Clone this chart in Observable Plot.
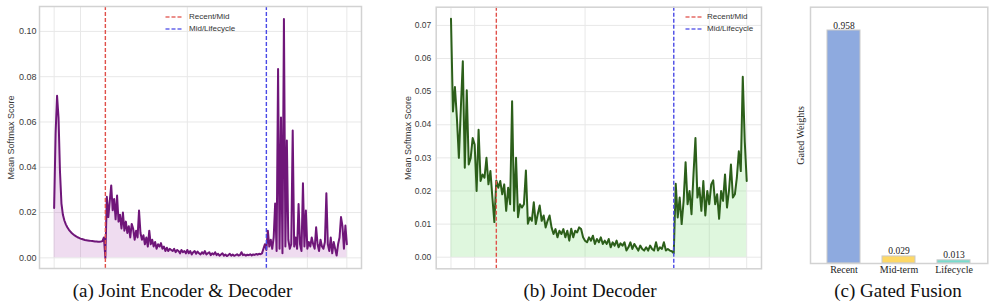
<!DOCTYPE html>
<html><head><meta charset="utf-8">
<script src="https://cdn.jsdelivr.net/npm/d3@7"></script>
<script src="https://cdn.jsdelivr.net/npm/@observablehq/plot@0.6"></script>
<style>
body{margin:0;background:#fff;}
#root{position:relative;width:996px;height:305px;overflow:hidden;font-family:"Liberation Sans",Arial,sans-serif;}
.panel{position:absolute;top:0;}
.caption{position:absolute;top:280px;font-family:"Liberation Serif","Times New Roman",serif;font-size:19px;color:#111;white-space:nowrap;transform:translateX(-50%);line-height:22px;}
.legend{position:absolute;font-size:8px;color:#333;line-height:12px;font-family:"Liberation Sans",Arial,sans-serif;}
.legend .row{display:flex;align-items:center;height:12px;}
.legend svg{display:block;}
g[aria-label="y-axis label"] text{font-size:9px;}
#pc g[aria-label="y-axis label"] text{font-size:10px;}
</style></head>
<body><div id="root"></div>
<script>
// ---------- data ----------
const encDecScores = [
0.022,0.055,0.0716,0.062,0.038,0.024,0.019,0.0165,0.0148,0.0135,0.0125,0.0117,0.011,0.0104,0.0099,0.0095,0.0091,0.0088,0.0085,0.0083,0.0081,0.0079,0.0078,0.0077,0.0076,0.0075,0.0074,0.0073,0.0072,0.0072,0.0071,0.0071,0.0072,0.0074,0.009,0.0,
0.027,0.018,0.025,0.032,0.021,0.026,0.017,0.0275,0.016,0.019,0.013,0.020,0.012,0.016,0.011,0.014,0.009,0.015,0.0128,0.008,0.012,0.009,0.0209,0.011,0.008,0.010,0.006,0.009,0.005,0.012,
0.006,0.008,0.005,0.007,0.004,0.006,0.005,0.0065,0.004,0.005,0.003,0.0045,0.003,0.004,0.0035,0.003,0.004,0.0025,0.0035,0.003,0.002,0.0035,0.0025,0.003,0.002,0.0035,0.002,0.003,0.0015,0.0025,
0.003,0.0018,0.0028,0.002,0.0015,0.0025,0.0018,0.003,0.0015,0.002,0.0025,0.0012,0.002,0.0015,0.0025,0.0012,0.0018,0.001,0.0015,0.002,0.001,0.0015,0.0008,0.0012,0.0018,0.001,0.0015,0.0009,0.0012,0.0016,
0.001,0.0013,0.0025,0.0012,0.0015,0.001,0.0014,0.0012,0.0016,0.0011,0.0015,0.0013,0.0017,0.0014,0.0018,0.0016,0.002,0.004,0.006,0.0035,
0.012,0.005,0.008,0.004,0.009,0.024,0.003,0.0834,0.004,0.062,0.002,0.1055,0.005,0.0518,0.008,0.004,0.006,0.0562,0.005,0.009,0.004,0.0238,0.006,0.003,0.0329,0.005,0.0209,0.004,0.007,0.005,
0.009,0.006,0.004,0.0135,0.006,0.003,0.008,0.005,0.004,0.007,0.0285,0.006,0.003,0.009,0.002,0.007,0.004,0.001,0.006,0.009,0.018,0.014,0.004,0.0143,0.006
];
const decScores = [
0.072,0.044,0.0514,0.042,0.030,0.045,0.0592,0.027,0.0504,0.028,0.030,0.036,0.034,0.020,0.0385,0.023,0.025,0.024,0.030,0.022,0.026,0.018,0.0106,0.0232,
0.021,0.023,0.019,0.022,0.014,0.021,0.016,0.0471,0.014,0.030,0.0121,0.016,0.015,0.016,0.0262,0.0101,0.012,0.011,0.0166,0.010,0.013,0.0156,0.011,0.0126,0.009,0.011,
0.0126,0.009,0.007,0.0085,0.006,0.008,0.007,0.0085,0.006,0.008,0.005,0.0086,0.006,0.008,0.0075,0.009,0.0085,0.006,0.005,0.0045,0.006,0.005,0.0065,0.004,0.0055,0.0045,0.006,0.004,0.005,0.004,
0.0055,0.003,0.0045,0.0035,0.005,0.003,0.0042,0.0035,0.0045,0.002,0.003,0.0045,0.0025,0.004,0.003,0.002,0.0035,0.0025,0.002,0.003,0.002,0.0035,0.0025,0.002,0.0045,0.002,0.003,0.0025,0.0045,0.002,
0.0025,0.002,0.0018,0.0012,
0.0222,0.012,0.018,0.010,0.017,0.0287,0.016,0.020,0.013,0.025,0.036,0.018,0.021,0.014,0.023,0.0126,0.020,0.016,0.022,0.0232,0.016,0.019,0.0116,0.020,0.017,0.025,0.015,0.020,0.028,0.018,
0.019,0.024,0.032,0.026,0.0545,0.035,0.023
];
const encDecBoundaries = [35, 145];
const decBoundaries = [23, 113];
const encDecGridX = [0, 18, 91, 173, 200];
const decGridX = [0, 12, 68, 131, 150];
const encDecTicks = [0, 0.02, 0.04, 0.06, 0.08, 0.10];
const decTicks = [0, 0.01, 0.02, 0.03, 0.04, 0.05, 0.06, 0.07];
const boundaryLabels = ["Recent/Mid", "Mid/Lifecycle"];
const boundaryColors = ["#e0504a", "#4a4ae6"];
const gateNames = ["Recent", "Mid-term", "Lifecycle"];
const gateWeights = [0.958, 0.029, 0.013];
const gateColors = ["#8eaadf", "#fdd866", "#7adbcd"];
const captions = ["(a) Joint Encoder & Decoder", "(b) Joint Decoder", "(c) Gated Fusion"];

// ---------- helpers ----------
const root = document.getElementById("root");
const sans = "Liberation Sans, Arial, sans-serif";
const serif = "Liberation Serif, Times New Roman, serif";

function linePanel({values, boundaries, gridX, ticks, xDomain, yDomain, left, marginLeft, marginTop, marginBottom, tickPad, tickFont, labelOffset, lineColor, fillColor, fillOpacity}) {
  const table = values.map((v, i) => ({step: i, score: v}));
  const svg = Plot.plot({
    width: 365, height: 272,
    marginLeft, marginRight: 4, marginTop, marginBottom,
    style: {fontFamily: sans, background: "transparent", color: "#3a3a3a", overflow: "visible"},
    x: {domain: xDomain, axis: null},
    y: {domain: yDomain},
    marks: [
      Plot.gridY(ticks, {stroke: "#e8e8e8", strokeOpacity: 1, strokeWidth: 1}),
      Plot.ruleX(gridX, {stroke: "#e8e8e8", strokeWidth: 1}),
      Plot.areaY(table, {x: "step", y: "score", fill: fillColor, fillOpacity}),
      Plot.lineY(table, {x: "step", y: "score", stroke: lineColor, strokeWidth: 2}),
      Plot.ruleX([boundaries[0]], {stroke: boundaryColors[0], strokeWidth: 1.4, strokeDasharray: "4,2"}),
      Plot.ruleX([boundaries[1]], {stroke: boundaryColors[1], strokeWidth: 1.4, strokeDasharray: "4,2"}),
      Plot.axisY(ticks, {tickSize: 0, tickPadding: tickPad, tickFormat: d3.format(".2f"), fontSize: tickFont,
        label: "Mean Softmax Score", labelAnchor: "center", labelArrow: "none", labelOffset}),
      Plot.frame({stroke: "#d2d2d2", strokeWidth: 1.5})
    ]
  });
  svg.classList.add("panel");
  svg.style.left = left + "px";
  root.appendChild(svg);
}

linePanel({values: encDecScores, boundaries: encDecBoundaries, gridX: encDecGridX, ticks: encDecTicks,
  xDomain: [-10, 210], yDomain: [-0.0047, 0.111], left: 0, marginLeft: 39, marginTop: 6, marginBottom: 4,
  tickPad: 3, tickFont: 9, labelOffset: 32, lineColor: "#6f1679", fillColor: "#a030a8", fillOpacity: 0.17});

linePanel({values: decScores, boundaries: decBoundaries, gridX: decGridX, ticks: decTicks,
  xDomain: [-7.5, 157.5], yDomain: [-0.0035, 0.0755], left: 400, marginLeft: 35.7, marginTop: 6.7, marginBottom: 3.7,
  tickPad: 5, tickFont: 8.5, labelOffset: 32, lineColor: "#2c5f1a", fillColor: "#7ee07a", fillOpacity: 0.25});

// panel c
const gateTable = gateNames.map((n, i) => ({name: n, weight: gateWeights[i]}));
const svgC = Plot.plot({
  width: 212, height: 283,
  marginLeft: 30, marginRight: 4.7, marginTop: 6.7, marginBottom: 20,
  style: {fontFamily: serif, background: "transparent", color: "#222", overflow: "visible"},
  x: {type: "band", domain: gateNames, paddingInner: 0.4, paddingOuter: 0.31},
  y: {domain: [0, 1.0538]},
  color: {domain: gateNames, range: gateColors},
  marks: [
    Plot.barY(gateTable, {x: "name", y: "weight", fill: "name", stroke: "#c9c9c9", strokeWidth: 1}),
    Plot.text(gateTable, {x: "name", y: "weight", text: d => d3.format(".3f")(d.weight), dy: -2, lineAnchor: "bottom", fontSize: 9.5, fill: "#222"}),
    Plot.axisX({tickSize: 0, tickPadding: 2, fontSize: 10, label: null}),
    Plot.axisY({ticks: [], tickSize: 0, label: "Gated Weights", labelAnchor: "center", labelArrow: "none", labelOffset: 14, fontSize: 10}),
    Plot.frame({stroke: "#d2d2d2", strokeWidth: 1.5})
  ]
});
svgC.classList.add("panel");
svgC.id = "pc";
svgC.style.left = "780px";
root.appendChild(svgC);

// legends
function legend(left, gap) {
  const div = document.createElement("div");
  div.className = "legend";
  div.style.left = left + "px";
  div.style.top = "10.7px";
  boundaryLabels.forEach((lab, i) => {
    const row = document.createElement("div");
    row.className = "row";
    row.innerHTML = `<svg width="17" height="12" style="margin-right:${gap}px"><line x1="0.5" x2="16.5" y1="6" y2="6" stroke="${boundaryColors[i]}" stroke-opacity="0.85" stroke-width="1.5" stroke-dasharray="4,2"/></svg><span></span>`;
    row.querySelector("span").textContent = lab;
    div.appendChild(row);
  });
  root.appendChild(div);
}
legend(165, 7);
legend(685, 5);

// captions
[182.5, 590, 898].forEach((cx, i) => {
  const c = document.createElement("div");
  c.className = "caption";
  c.style.left = cx + "px";
  c.textContent = captions[i];
  root.appendChild(c);
});
</script>
</body></html>
